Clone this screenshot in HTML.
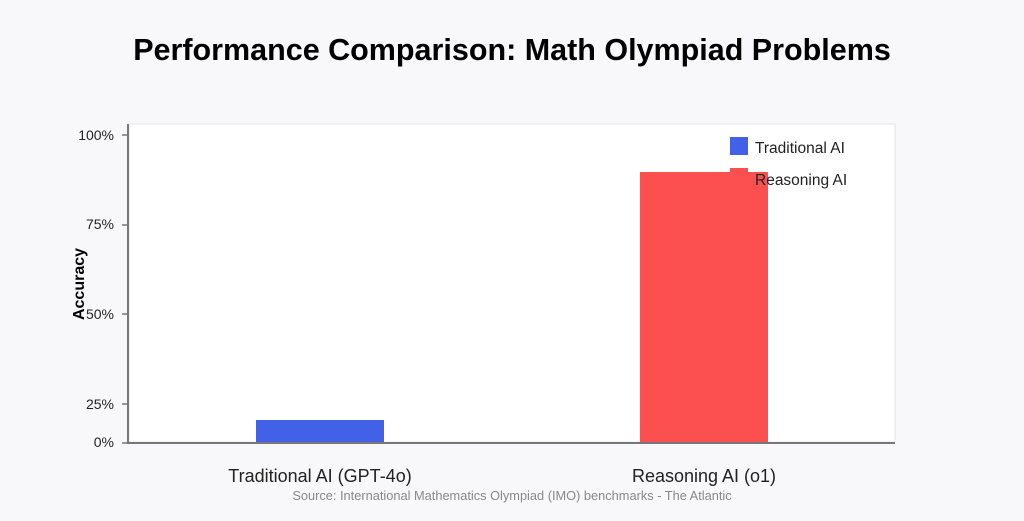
<!DOCTYPE html>
<html><head><style>
body{margin:0;width:1024px;height:516px;background:#f8f8fa;font-family:"Liberation Sans",sans-serif;overflow:hidden}
</style></head><body>
<svg width="1024" height="516" xmlns="http://www.w3.org/2000/svg" font-family="Liberation Sans, sans-serif">
<text x="512" y="60" text-anchor="middle" font-size="30.5" font-weight="bold" fill="#000">Performance Comparison: Math Olympiad Problems</text>
<rect x="129" y="124" width="766" height="318" fill="#fff" stroke="#e4e4e8" stroke-width="1"/>
<rect x="256" y="420" width="128" height="23" fill="#4361e6"/>
<rect x="640" y="172" width="128" height="271" fill="#fc5050"/>
<line x1="128" y1="124" x2="128" y2="443" stroke="#777" stroke-width="2"/>
<line x1="127" y1="443" x2="895" y2="443" stroke="#777" stroke-width="2"/>
<g stroke="#777" stroke-width="1.5">
<line x1="122" y1="135" x2="128" y2="135"/><line x1="122" y1="225" x2="128" y2="225"/>
<line x1="122" y1="314" x2="128" y2="314"/><line x1="122" y1="404" x2="128" y2="404"/>
<line x1="122" y1="443" x2="128" y2="443"/></g>
<g font-size="14" fill="#222" text-anchor="end">
<text x="114" y="140">100%</text><text x="114" y="229">75%</text><text x="114" y="319">50%</text>
<text x="114" y="409">25%</text><text x="114" y="447">0%</text></g>
<text transform="translate(84,284) rotate(-90)" text-anchor="middle" font-size="16" font-weight="bold" fill="#000">Accuracy</text>
<rect x="730" y="137" width="18" height="18" fill="#4361e6"/>
<rect x="730" y="168" width="18" height="18" fill="#fc5050"/>
<text x="755" y="153" font-size="15.5" fill="#222">Traditional AI</text>
<text x="755" y="185" font-size="15.5" fill="#222">Reasoning AI</text>
<text x="320" y="482" text-anchor="middle" font-size="18" fill="#222">Traditional AI (GPT-4o)</text>
<text x="704" y="482" text-anchor="middle" font-size="18" fill="#222">Reasoning AI (o1)</text>
<text x="512" y="500" text-anchor="middle" font-size="12.8" fill="#888">Source: International Mathematics Olympiad (IMO) benchmarks - The Atlantic</text>
</svg>
</body></html>
